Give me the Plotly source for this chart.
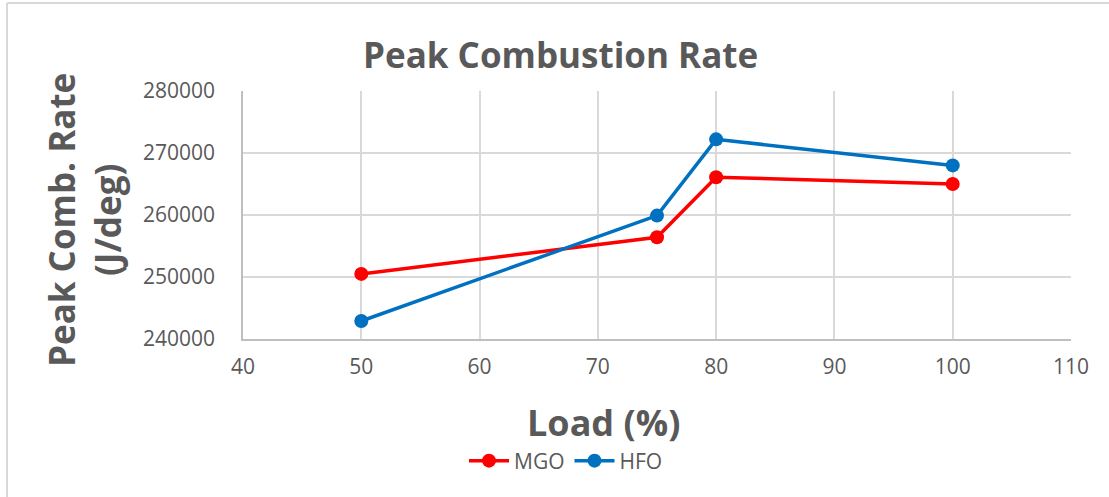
import plotly.graph_objects as go

load = [50, 75, 80, 100]
mgo = [250500, 256400, 266100, 265000]
hfo = [242900, 259900, 272200, 268000]

x_ticks = [40, 50, 60, 70, 80, 90, 100, 110]
y_ticks = [240000, 250000, 260000, 270000, 280000]

GRAY = "#595959"
FONT = "Open Sans"

fig = go.Figure()
fig.add_trace(go.Scatter(x=load, y=mgo, name="MGO", mode="lines+markers",
                         line=dict(color="#FF0000", width=3.5),
                         marker=dict(size=14, color="#FF0000")))
fig.add_trace(go.Scatter(x=load, y=hfo, name="HFO", mode="lines+markers",
                         line=dict(color="#0070C0", width=3.5),
                         marker=dict(size=14, color="#0070C0")))

L, R, T, B = 243, 38, 91, 158
W, H = 1109, 497
pw, ph = W - L - R, H - T - B

def px(xp):
    return (xp - L) / pw

def py(yp):
    return (H - B - yp) / ph

fig.update_layout(
    width=W, height=H,
    margin=dict(l=L, r=R, t=T, b=B),
    paper_bgcolor="white", plot_bgcolor="white",
    font=dict(family=FONT, color=GRAY),
    showlegend=True,
    legend=dict(orientation="h", x=px(566), y=py(461), xanchor="center", yanchor="middle",
                font=dict(size=21, color=GRAY, family=FONT), itemwidth=40,
                bgcolor="rgba(0,0,0,0)"),
    xaxis=dict(range=[40, 110], tickvals=x_ticks, showgrid=True, gridcolor="#d9d9d9", gridwidth=1.5,
               zeroline=False, showline=True, linecolor="#bfbfbf", linewidth=1.5,
               tickfont=dict(size=21, color=GRAY, family=FONT), ticks="", ticklabelstandoff=8),
    yaxis=dict(range=[240000, 280000], tickvals=y_ticks, showgrid=True, gridcolor="#d9d9d9", gridwidth=1.5,
               zeroline=False, showline=True, linecolor="#bfbfbf", linewidth=1.5,
               tickformat="d",
               tickfont=dict(size=21, color=GRAY, family=FONT), ticks="", ticklabelstandoff=22),
    annotations=[
        dict(text="<b>Peak Combustion Rate</b>", xref="paper", yref="paper",
             x=px(560), y=py(54), xanchor="center", yanchor="middle", showarrow=False,
             font=dict(size=35, color=GRAY, family=FONT)),
        dict(text="<b>Load (%)</b>", xref="paper", yref="paper",
             x=px(603), y=py(422), xanchor="center", yanchor="middle", showarrow=False,
             font=dict(size=36, color=GRAY, family=FONT)),
        dict(text="<b>Peak Comb. Rate<br>(J/deg)</b>", xref="paper", yref="paper",
             x=px(84), y=py(220), xanchor="center", yanchor="middle", showarrow=False,
             textangle=-90, font=dict(size=35, color=GRAY, family=FONT)),
    ],
    shapes=[
        dict(type="line", xref="paper", yref="paper", x0=px(7), x1=px(7), y0=py(3), y1=py(497),
             line=dict(color="#d9d9d9", width=2)),
        dict(type="line", xref="paper", yref="paper", x0=px(7), x1=px(1109), y0=py(3), y1=py(3),
             line=dict(color="#d9d9d9", width=2)),
    ],
)

fig.write_html("out.html")
